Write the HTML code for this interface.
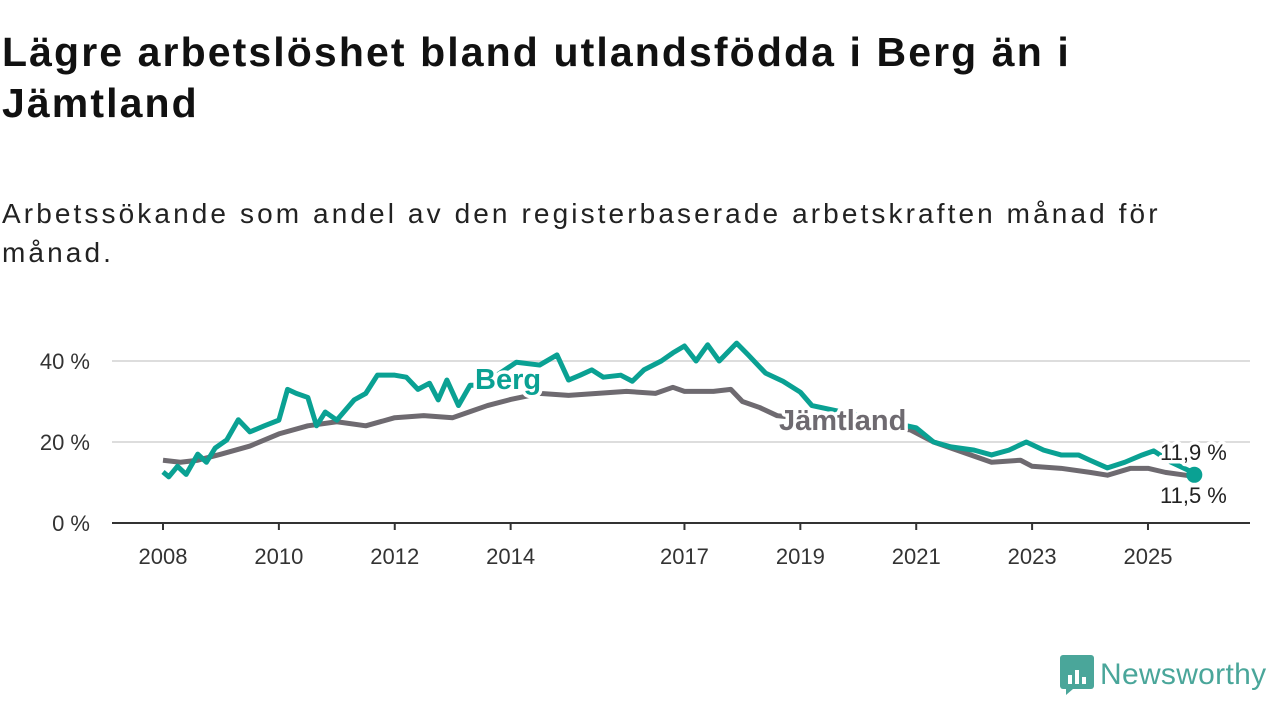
<!DOCTYPE html>
<html><head><meta charset="utf-8"><style>
body{margin:0;width:1280px;height:720px;background:#fff;font-family:"Liberation Sans",sans-serif;overflow:hidden;position:relative}
h1{position:absolute;left:2px;top:27px;margin:0;font-size:41px;line-height:51px;font-weight:bold;color:#111;width:1130px;letter-spacing:2.1px}
.sub{position:absolute;left:2px;top:194px;font-size:28px;line-height:39px;color:#222;width:1200px;letter-spacing:3.1px}
</style></head><body>
<h1>Lägre arbetslöshet bland utlandsfödda i Berg än i Jämtland</h1>
<div class="sub">Arbetssökande som andel av den registerbaserade arbetskraften månad för månad.</div>
<svg id="chart" width="1280" height="720" style="position:absolute;left:0;top:0"></svg>
<div style="position:absolute;left:1060px;top:655px;display:flex;align-items:center">
<svg width="34" height="40"><rect x="0" y="0" width="34" height="34" rx="3" fill="#4aa69a"/><polygon points="6,34 6,40 13,34" fill="#4aa69a"/><rect x="8" y="20" width="4" height="9" fill="#fff"/><rect x="15" y="15" width="4" height="14" fill="#fff"/><rect x="22" y="22" width="4" height="7" fill="#fff"/></svg>
<span style="font-size:30px;color:#4aa69a;margin-left:6px;letter-spacing:0.3px">Newsworthy</span></div>
<script>
const bergYears=[2008.0,2008.1,2008.25,2008.4,2008.6,2008.75,2008.9,2009.1,2009.3,2009.5,2009.75,2010.0,2010.15,2010.3,2010.5,2010.65,2010.8,2011.0,2011.3,2011.5,2011.7,2012.0,2012.2,2012.4,2012.6,2012.75,2012.9,2013.1,2013.3,2013.5,2014.1,2014.5,2014.8,2015.0,2015.2,2015.4,2015.6,2015.9,2016.1,2016.3,2016.6,2016.8,2017.0,2017.2,2017.4,2017.6,2017.9,2018.1,2018.4,2018.7,2019.0,2019.2,2021.0,2021.3,2021.6,2022.0,2022.3,2022.6,2022.9,2023.2,2023.5,2023.8,2024.0,2024.3,2024.6,2024.9,2025.1,2025.4,2025.7,2025.8];
const bergValues=[12.6,11.4,14,12,17,15,18.5,20.5,25.5,22.5,24,25.4,33,32,31,24,27.4,25.4,30.4,32,36.5,36.5,36,33,34.5,30.4,35.3,29,34,34,39.7,39,41.5,35.3,36.5,37.8,36,36.5,35,37.8,40,42,43.7,40,44,40,44.4,41.5,37,35,32.3,29,23.5,20,18.8,18,16.8,18,20,18,16.8,16.8,15.5,13.6,15,16.8,17.8,15,13,11.9];
const jamYears=[2008.0,2008.3,2008.6,2009.0,2009.5,2010.0,2010.5,2011.0,2011.5,2012.0,2012.5,2013.0,2013.3,2013.6,2014.0,2014.5,2015.0,2015.5,2016.0,2016.5,2016.8,2017.0,2017.5,2017.8,2018.0,2018.3,2018.6,2020.9,2021.3,2021.8,2022.3,2022.8,2023.0,2023.5,2024.0,2024.3,2024.7,2025.0,2025.3,2025.8];
const jamValues=[15.5,15,15.5,17,19,22,24,25,24,26,26.5,26,27.5,29,30.5,32,31.5,32,32.5,32,33.5,32.5,32.5,33,30,28.5,26.5,23,20,17.5,15,15.5,14,13.5,12.5,11.8,13.5,13.5,12.5,11.5];
const yTicks=[0,20,40];
const yTickLabels=["0 %","20 %","40 %"];
const xTicks=[2008,2010,2012,2014,2017,2019,2021,2023,2025];
const NS="http://www.w3.org/2000/svg";
const svg=document.getElementById('chart');
const X=v=>163+(v-2008)*57.94;
const Y=v=>523-v*4.05;
function el(t,a){const e=document.createElementNS(NS,t);for(const k in a)e.setAttribute(k,a[k]);svg.appendChild(e);return e;}
yTicks.forEach((t,i)=>{
 if(t>0){const g=el('line',{x1:112,x2:1250,y1:Y(t),y2:Y(t),stroke:'#ddd','stroke-width':2});
 
 }
 const l=el('text',{x:90,y:Y(t)+8,'text-anchor':'end','font-size':22,fill:'#333'});l.textContent=yTickLabels[i];
 
 
});
const ax=el('line',{x1:112,x2:1250,y1:523,y2:523,stroke:'#333','stroke-width':2});


xTicks.forEach(t=>{
 const tk=el('line',{x1:X(t),x2:X(t),y1:523,y2:530,stroke:'#333','stroke-width':2});
 
 
 const l=el('text',{x:X(t),y:564,'text-anchor':'middle','font-size':22,fill:'#333'});l.textContent=t;
 
 
});
function line(xs,vs,col,name){
 const p=el('polyline',{points:xs.map((x,i)=>X(x)+','+Y(vs[i])).join(' '),fill:'none',stroke:col,'stroke-width':5,'stroke-linejoin':'round'});
 
 
}
line(jamYears,jamValues,'#6e6a70','jamtland-line');
line(bergYears,bergValues,'#0aa193','berg-line');
const d=el('circle',{cx:X(bergYears[bergYears.length-1]),cy:Y(bergValues[bergValues.length-1]),r:8,fill:'#0aa193'});


function lab(x,y,txt,col,name,size,bold){
 const t=el('text',{x:x,y:y,fill:col,'font-size':size,'font-weight':bold?'bold':'normal',stroke:'#fff','stroke-width':7,'paint-order':'stroke','stroke-linejoin':'round'});
 t.textContent=txt;
 
 
}
lab(475,389,'Berg','#0aa193','berg-label',29,true);
lab(779,430,'Jämtland','#6e6a70','jamtland-label',29,true);
lab(1160,460,'11,9 %','#222','berg-value-label',22,false);
lab(1160,503,'11,5 %','#222','jamtland-value-label',22,false);
</script>
</body></html>
